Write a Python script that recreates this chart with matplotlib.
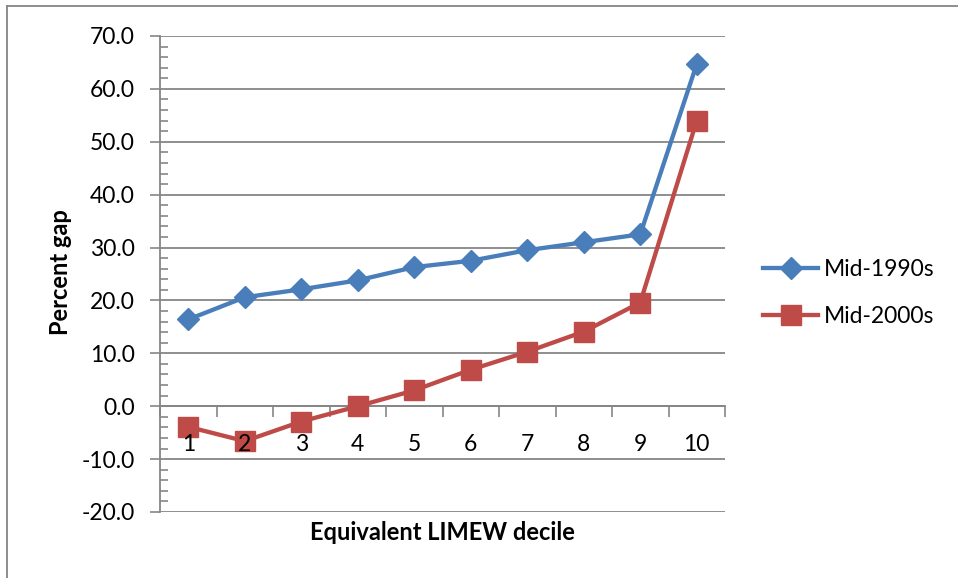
import matplotlib
matplotlib.use("Agg")
import matplotlib.pyplot as plt
from matplotlib.lines import Line2D
from matplotlib.ticker import MultipleLocator, FormatStrFormatter, FixedLocator, NullFormatter

plt.rcParams['font.family'] = ['Lato', 'DejaVu Sans']

# Percent gap by equivalent LIMEW decile
deciles = [1, 2, 3, 4, 5, 6, 7, 8, 9, 10]
mid_1990s = [16.4, 20.6, 22.1, 23.8, 26.3, 27.5, 29.5, 31.0, 32.5, 64.7]
mid_2000s = [-3.9, -6.6, -2.9, 0.0, 3.0, 6.9, 10.3, 14.1, 19.6, 54.0]

BLUE = '#4A7EBB'
RED = '#BE4B48'
GRID = '#868686'
FS = 16.5

fig = plt.figure(figsize=(9.58, 5.78), dpi=100)
ax = fig.add_axes([160 / 958, 1 - 512 / 578, 565 / 958, 476 / 578])

ax.plot(deciles, mid_1990s, color=BLUE, lw=3.1, marker='D', ms=11.5,
        mec=BLUE, mfc=BLUE, label='Mid-1990s', zorder=3)
ax.plot(deciles, mid_2000s, color=RED, lw=3.1, marker='s', ms=14,
        mec=RED, mfc=RED, label='Mid-2000s', zorder=3)

ax.set_xlim(0.5, 10.5)
ax.set_ylim(-20, 70)

# y axis: major every 10 with grid, minor every 2 drawn inward
ax.yaxis.set_major_locator(MultipleLocator(10))
ax.yaxis.set_minor_locator(MultipleLocator(2))
ax.yaxis.set_major_formatter(FormatStrFormatter('%.1f'))
ax.tick_params(axis='y', which='major', direction='out', length=7, width=1.2,
               color=GRID, labelsize=FS, pad=11)
ax.tick_params(axis='y', which='minor', direction='in', length=6, width=1.2,
               color=GRID)
ax.grid(axis='y', which='major', color=GRID, lw=1.3)
ax.set_axisbelow(True)

# category axis sits at zero, ticks between categories
ax.xaxis.set_major_locator(FixedLocator([d + 0.5 for d in [0] + deciles]))
ax.xaxis.set_major_formatter(NullFormatter())
ax.tick_params(axis='x', which='major', direction='out', length=8, width=1.2,
               color=GRID)

# category labels drawn above the markers
for d in deciles:
    ax.annotate(str(d), xy=(d, 0), xytext=(0, -20), textcoords='offset points',
                ha='center', va='top', fontsize=FS, zorder=5,
                annotation_clip=False)

ax.spines['bottom'].set_position(('data', 0))
for side in ['top', 'right']:
    ax.spines[side].set_visible(False)
for side in ['left', 'bottom']:
    ax.spines[side].set_color(GRID)
    ax.spines[side].set_linewidth(1.3)

fig.text(442 / 958, 1 - 533 / 578, 'Equivalent LIMEW decile', ha='center',
         va='center', fontsize=FS + 0.5, fontweight='bold')
fig.text(60 / 958, 1 - 272 / 578, 'Percent gap', ha='center', va='center',
         rotation=90, fontsize=FS + 0.5, fontweight='bold')

fig.legend(loc='center left', bbox_to_anchor=(763 / 958, 1 - 293 / 578),
           frameon=False, fontsize=FS, handlelength=2.4, handletextpad=0.25,
           labelspacing=1.1, borderpad=0, borderaxespad=0)

# chart area border (left and top edges)
fig.add_artist(Line2D([7 / 958, 7 / 958], [0, 1 - 6 / 578], color=GRID,
                      lw=1.3, transform=fig.transFigure))
fig.add_artist(Line2D([7 / 958, 1], [1 - 6 / 578, 1 - 6 / 578], color=GRID,
                      lw=1.3, transform=fig.transFigure))

fig.savefig('out.png', dpi=100)
